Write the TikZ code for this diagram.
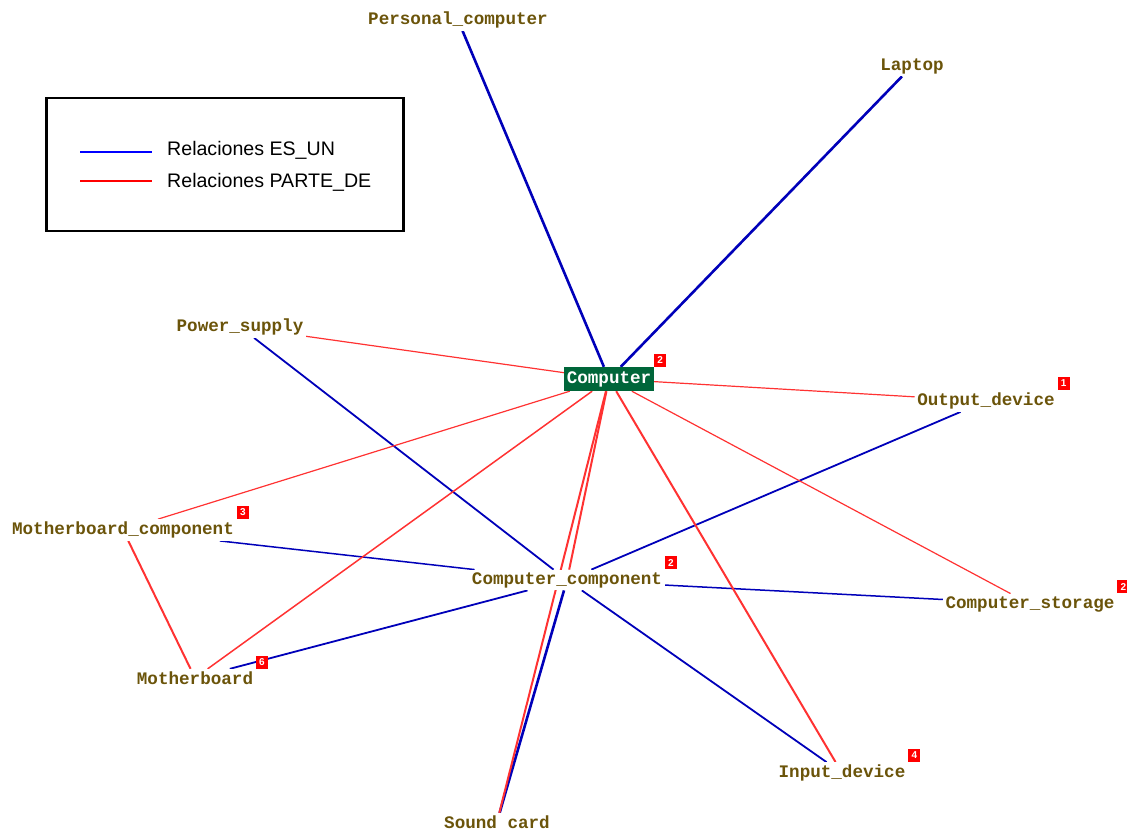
\documentclass[tikz,border=0pt]{standalone}
\usepackage{fontspec}
\setsansfont{Liberation Sans}
\newfontfamily\conceptfont{Liberation Mono}
\usetikzlibrary{backgrounds}
\definecolor{conceptbrown}{RGB}{107,84,10}
\definecolor{rootgreen}{RGB}{0,102,58}
\definecolor{isablue}{RGB}{0,0,185}
\definecolor{partred}{RGB}{255,50,50}
\tikzset{
  concept/.style={fill=white, inner sep=2.5pt, text=conceptbrown,
                  font=\conceptfont\bfseries\fontsize{17.6}{18}\selectfont,
                  label distance=-1pt},
  root/.style={concept, fill=rootgreen, text=white,
               minimum height=24pt, inner sep=2.5pt},
  badge/.style={fill=red, text=white, inner sep=0pt, minimum width=12pt,
                minimum height=13pt, font=\sffamily\bfseries\fontsize{10}{10}\selectfont},
  esun/.style={isablue, line width=1.8pt},
  esunthick/.style={esun, line width=2.6pt},
  partede/.style={partred, line width=1.2pt},
  partedethick/.style={partred, line width=2pt},
  legendtext/.style={anchor=west, inner sep=0pt, font=\sffamily\fontsize{19.6}{19.6}\selectfont},
}

\begin{document}
\begin{tikzpicture}[x=1pt, y=-1pt]
  \useasboundingbox (0,0) rectangle (1127,832);

  % legend
  \node[draw, line width=2.5pt, minimum width=357pt, minimum height=133pt] (legend) at (225,164.5) {};
  \coordinate (esunA) at (80,152);
  \coordinate (esunB) at (152,152);
  \coordinate (partA) at (80,181);
  \coordinate (partB) at (152,181);
  \draw[blue, line width=2.5pt] (esunA) -- (esunB);
  \draw[red, line width=2.5pt] (partA) -- (partB);
  \node[legendtext] (esunlbl) at (167,150) {Relaciones ES\_UN};
  \node[legendtext] (partlbl) at (167,182) {Relaciones PARTE\_DE};

  % concepts
  \node[root, label={[badge]north east:2}] (computer) at (609,379) {Computer};
  \node[concept] (personal) at (458,20) {Personal\_computer};
  \node[concept] (laptop) at (912,66) {Laptop};
  \node[concept] (power) at (240,327) {Power\_supply};
  \node[concept, label={[badge]north east:1}] (output) at (986,401) {Output\_device};
  \node[concept, label={[badge]north east:3}] (mbcomp) at (123,530) {Motherboard\_component};
  \node[concept, label={[badge]north east:2}] (compcomp) at (567,580) {Computer\_component};
  \node[concept, label={[badge]north east:2}] (storage) at (1030,604) {Computer\_storage};
  \node[concept, label={[badge]north east:6}] (mboard) at (195,678) {Motherboard};
  \node[concept, label={[badge]north east:4}] (input) at (842,773) {Input\_device};
  \node[concept] (sound) at (497,822) {Sound card};

  \begin{scope}[on background layer]
    % ES_UN
    \draw[esunthick] (personal) -- (computer);
    \draw[esunthick] (laptop) -- (computer);
    \draw[esun] (power) -- (compcomp);
    \draw[esun] (output) -- (compcomp);
    \draw[esun, line width=1.5pt] (mbcomp) -- (compcomp);
    \draw[esun, line width=1.5pt] (storage) -- (compcomp);
    \draw[esun] (mboard) -- (compcomp);
    \draw[esun] (input) -- (compcomp);
    \draw[esunthick] (sound) -- (compcomp);
    % PARTE_DE
    \draw[partede] (power) -- (computer);
    \draw[partede] (output) -- (computer);
    \draw[partede] (mbcomp) -- (computer);
    \draw[partede, line width=1.5pt] (mboard) -- (computer);
    \draw[partede] (storage) -- (computer);
    \draw[partedethick] (input) -- (computer);
    \draw[partedethick] (sound) -- (computer);
    \draw[partedethick] (compcomp) -- (computer);
    \draw[partedethick] (mbcomp) -- (mboard);
  \end{scope}
\end{tikzpicture}
\end{document}
